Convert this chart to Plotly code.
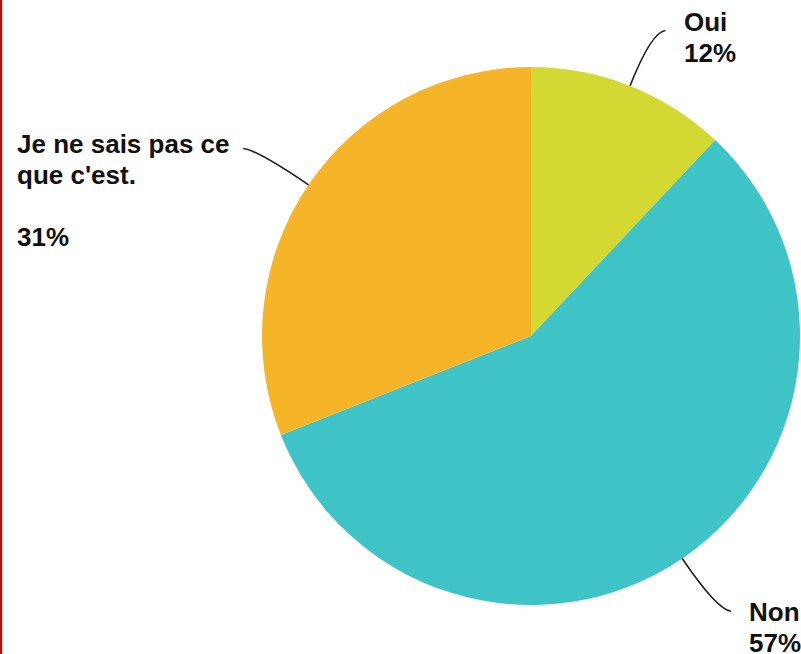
import math
import plotly.graph_objects as go

labels = ["Oui", "Non", "Je ne sais pas ce que c'est."]
label_text = ["Oui<br>12%", "Non<br>57%", "Je ne sais pas ce<br>que c'est.<br><br>31%"]
values = [12, 57, 31]
colors = ["#d4d832", "#3ec3c6", "#f6b428"]

W, H = 801, 654
cx, cy, r = 531, 336, 269
LINE = 31

fig = go.Figure(go.Pie(
    labels=labels, values=values, sort=False, direction="clockwise", rotation=0,
    marker=dict(colors=colors, line=dict(width=0)),
    textinfo="none", hoverinfo="label+percent", showlegend=False,
    domain=dict(x=[(cx - r) / W, (cx + r) / W], y=[(H - cy - r) / H, (H - cy + r) / H]),
))

def px(x, y):
    return x / W, 1 - y / H

total = sum(values)
cum = 0
leader = {"Oui": (58, 14), "Non": (62, 14), "Je ne sais pas ce que c'est.": (62, -14)}
text_pos = {
    "Oui": (682, 5),
    "Non": (747, 595),
    "Je ne sais pas ce que c'est.": (15, 127),
}
shapes = []
annotations = []
for lab, txt, v in zip(labels, label_text, values):
    mid = (cum + v / 2) / total * 2 * math.pi
    cum += v
    dx, dy = math.sin(mid), -math.cos(mid)
    x0, y0 = cx + r * dx, cy + r * dy
    L, h = leader[lab]
    x1, y1 = x0 + L * dx, y0 + L * dy
    x2, y2 = x1 + h, y1 + (1.5 if dy > 0 else -1.5)
    p0, p1, p2 = px(x0, y0), px(x1, y1), px(x2, y2)
    shapes.append(dict(
        type="path", xref="paper", yref="paper",
        path=f"M {p0[0]},{p0[1]} Q {p1[0]},{p1[1]} {p2[0]},{p2[1]}",
        line=dict(color="#222222", width=1.6),
    ))
    tx, ty = text_pos[lab]
    for i, line in enumerate(txt.split("<br>")):
        if not line:
            continue
        ax, ay = px(tx, ty + i * LINE)
        annotations.append(dict(
            x=ax, y=ay, xref="paper", yref="paper", xanchor="left", yanchor="top",
            text=f"<b>{line}</b>", showarrow=False, align="left",
            font=dict(family="Liberation Sans, Arial", size=26, color="#111111"),
        ))

# red left border
shapes.append(dict(type="line", xref="paper", yref="paper", x0=0.0012, x1=0.0012, y0=0, y1=1,
                   line=dict(color="#b01010", width=2.5)))

fig.update_layout(
    width=W, height=H, margin=dict(l=0, r=0, t=0, b=0),
    paper_bgcolor="white", plot_bgcolor="white",
    shapes=shapes, annotations=annotations,
)
fig.write_html(
    "out.html",
    config={"displayModeBar": False},
    post_script="document.body.style.margin='0';document.body.style.overflow='hidden';",
)
